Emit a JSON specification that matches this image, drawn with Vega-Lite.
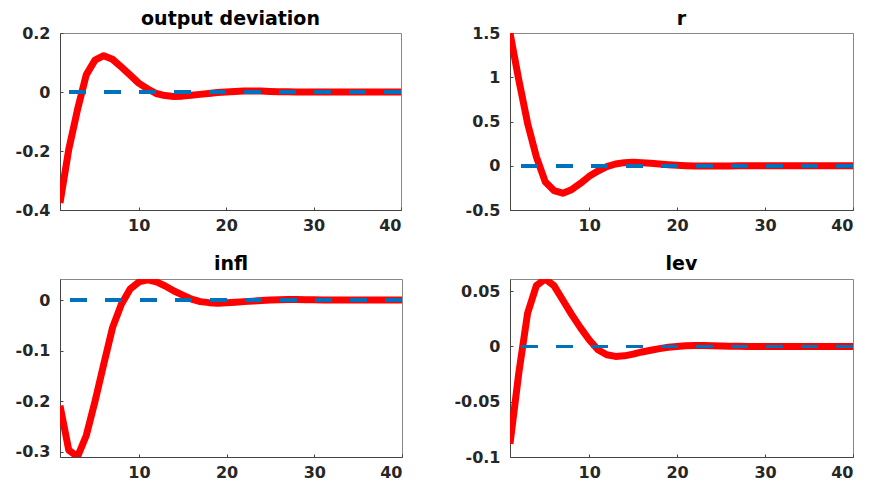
{
  "$schema": "https://vega.github.io/schema/vega-lite/v6.json",
  "padding": {"left": 14, "top": 9, "right": 5, "bottom": 0},
  "background": "white",
  "bounds": "flush",
  "columns": 2,
  "spacing": {"column": 108, "row": 69},
  "config": {
    "view": {"stroke": "#888888", "strokeWidth": 1},
    "font": "DejaVu Sans",
    "axis": {
      "grid": false,
      "domainColor": "#444444",
      "tickColor": "#444444",
      "tickSize": -3,
      "labelFont": "DejaVu Sans",
      "labelFontWeight": "bold",
      "labelFontSize": 16,
      "labelColor": "#262626",
      "labelExpr": "replace(datum.label, '\u2212', '-')",
      "title": null
    },
    "title": {"font": "DejaVu Sans", "fontWeight": "bold", "fontSize": 19, "color": "#000000", "offset": 5}
  },
  "datasets": {
    "irf": [
      {"t": 1, "y": -0.376, "r": 1.5, "infl": -0.209, "lev": -0.088},
      {"t": 2, "y": -0.195, "r": 0.97, "infl": -0.297, "lev": -0.024},
      {"t": 3, "y": -0.06, "r": 0.48, "infl": -0.31, "lev": 0.03},
      {"t": 4, "y": 0.058, "r": 0.1, "infl": -0.268, "lev": 0.055},
      {"t": 5, "y": 0.108, "r": -0.18, "infl": -0.2, "lev": 0.061},
      {"t": 6, "y": 0.123, "r": -0.28, "infl": -0.126, "lev": 0.055},
      {"t": 7, "y": 0.111, "r": -0.31, "infl": -0.054, "lev": 0.042},
      {"t": 8, "y": 0.085, "r": -0.27, "infl": -0.008, "lev": 0.029},
      {"t": 9, "y": 0.058, "r": -0.2, "infl": 0.022, "lev": 0.017},
      {"t": 10, "y": 0.03, "r": -0.12, "infl": 0.036, "lev": 0.006},
      {"t": 11, "y": 0.011, "r": -0.06, "infl": 0.04, "lev": -0.003},
      {"t": 12, "y": -0.005, "r": -0.01, "infl": 0.036, "lev": -0.0075},
      {"t": 13, "y": -0.012, "r": 0.02, "infl": 0.028, "lev": -0.009},
      {"t": 14, "y": -0.015, "r": 0.035, "infl": 0.018, "lev": -0.0085},
      {"t": 15, "y": -0.014, "r": 0.04, "infl": 0.01, "lev": -0.007},
      {"t": 16, "y": -0.011, "r": 0.035, "infl": 0.002, "lev": -0.005},
      {"t": 17, "y": -0.008, "r": 0.028, "infl": -0.003, "lev": -0.0035},
      {"t": 18, "y": -0.005, "r": 0.02, "infl": -0.005, "lev": -0.002},
      {"t": 19, "y": -0.002, "r": 0.012, "infl": -0.006, "lev": -0.0008},
      {"t": 20, "y": 0.0, "r": 0.005, "infl": -0.005, "lev": 0.0},
      {"t": 21, "y": 0.002, "r": 0.0, "infl": -0.004, "lev": 0.0006},
      {"t": 22, "y": 0.003, "r": -0.003, "infl": -0.003, "lev": 0.0008},
      {"t": 23, "y": 0.003, "r": -0.004, "infl": -0.002, "lev": 0.0008},
      {"t": 24, "y": 0.003, "r": -0.004, "infl": -0.001, "lev": 0.0006},
      {"t": 25, "y": 0.002, "r": -0.003, "infl": 0.0, "lev": 0.0004},
      {"t": 26, "y": 0.001, "r": -0.002, "infl": 0.0005, "lev": 0.0002},
      {"t": 27, "y": 0.0005, "r": -0.001, "infl": 0.001, "lev": 0.0001},
      {"t": 28, "y": 0.0, "r": -0.0005, "infl": 0.001, "lev": 0.0},
      {"t": 29, "y": 0.0, "r": 0.0, "infl": 0.0008, "lev": 0.0},
      {"t": 30, "y": 0.0, "r": 0.0, "infl": 0.0005, "lev": 0.0},
      {"t": 31, "y": 0.0, "r": 0.0, "infl": 0.0003, "lev": 0.0},
      {"t": 32, "y": 0.0, "r": 0.0, "infl": 0.0001, "lev": 0.0},
      {"t": 33, "y": 0.0, "r": 0.0, "infl": 0.0, "lev": 0.0},
      {"t": 34, "y": 0.0, "r": 0.0, "infl": 0.0, "lev": 0.0},
      {"t": 35, "y": 0.0, "r": 0.0, "infl": 0.0, "lev": 0.0},
      {"t": 36, "y": 0.0, "r": 0.0, "infl": 0.0, "lev": 0.0},
      {"t": 37, "y": 0.0, "r": 0.0, "infl": 0.0, "lev": 0.0},
      {"t": 38, "y": 0.0, "r": 0.0, "infl": 0.0, "lev": 0.0},
      {"t": 39, "y": 0.0, "r": 0.0, "infl": 0.0, "lev": 0.0},
      {"t": 40, "y": 0.0, "r": 0.0, "infl": 0.0, "lev": 0.0}
    ]
  },
  "concat": [
    {
      "title": {"text": "output deviation", "offset": -4},
      "width": 341, "height": 177,
      "data": {"name": "irf"},
      "layer": [
        {
          "mark": {"type": "line", "color": "#ff0000", "strokeWidth": 7, "strokeJoin": "round", "clip": true},
          "encoding": {
            "x": {"field": "t", "type": "quantitative", "scale": {"domain": [1, 40], "nice": false, "zero": false}, "axis": {"values": [10, 20, 30, 40], "labelPadding": 10}},
            "y": {"field": "y", "type": "quantitative", "scale": {"domain": [-0.4, 0.2], "nice": false}, "axis": {"values": [-0.4, -0.2, 0, 0.2], "labelPadding": 13, "format": "~g"}}
          }
        },
        {
          "mark": {"type": "rule", "color": "#0072BD", "strokeWidth": 3, "strokeDash": [17, 18]},
          "encoding": {"y": {"datum": 0, "type": "quantitative"}}
        }
      ]
    },
    {
      "title": {"text": "r", "offset": -4},
      "width": 343, "height": 177,
      "data": {"name": "irf"},
      "layer": [
        {
          "mark": {"type": "line", "color": "#ff0000", "strokeWidth": 7, "strokeJoin": "round", "clip": true},
          "encoding": {
            "x": {"field": "t", "type": "quantitative", "scale": {"domain": [1, 40], "nice": false, "zero": false}, "axis": {"values": [10, 20, 30, 40], "labelPadding": 10}},
            "y": {"field": "r", "type": "quantitative", "scale": {"domain": [-0.5, 1.5], "nice": false}, "axis": {"values": [-0.5, 0, 0.5, 1, 1.5], "labelPadding": 13, "format": "~g"}}
          }
        },
        {
          "mark": {"type": "rule", "color": "#0072BD", "strokeWidth": 3, "strokeDash": [17, 18]},
          "encoding": {"y": {"datum": 0, "type": "quantitative"}}
        }
      ]
    },
    {
      "title": "infl",
      "width": 342, "height": 178,
      "data": {"name": "irf"},
      "layer": [
        {
          "mark": {"type": "line", "color": "#ff0000", "strokeWidth": 7, "strokeJoin": "round", "clip": true},
          "encoding": {
            "x": {"field": "t", "type": "quantitative", "scale": {"domain": [1, 40], "nice": false, "zero": false}, "axis": {"values": [10, 20, 30, 40], "labelPadding": 10}},
            "y": {"field": "infl", "type": "quantitative", "scale": {"domain": [-0.3106, 0.0418], "nice": false}, "axis": {"values": [-0.3, -0.2, -0.1, 0], "labelPadding": 13, "format": "~g"}}
          }
        },
        {
          "mark": {"type": "rule", "color": "#0072BD", "strokeWidth": 3, "strokeDash": [17, 18]},
          "encoding": {"y": {"datum": 0, "type": "quantitative"}}
        }
      ]
    },
    {
      "title": "lev",
      "width": 343, "height": 178,
      "data": {"name": "irf"},
      "layer": [
        {
          "mark": {"type": "line", "color": "#ff0000", "strokeWidth": 7, "strokeJoin": "round", "clip": true},
          "encoding": {
            "x": {"field": "t", "type": "quantitative", "scale": {"domain": [1, 40], "nice": false, "zero": false}, "axis": {"values": [10, 20, 30, 40], "labelPadding": 10}},
            "y": {"field": "lev", "type": "quantitative", "scale": {"domain": [-0.1, 0.061], "nice": false}, "axis": {"values": [-0.1, -0.05, 0, 0.05], "labelPadding": 13, "format": "~g"}}
          }
        },
        {
          "mark": {"type": "rule", "color": "#0072BD", "strokeWidth": 3, "strokeDash": [17, 18]},
          "encoding": {"y": {"datum": 0, "type": "quantitative"}}
        }
      ]
    }
  ]
}
